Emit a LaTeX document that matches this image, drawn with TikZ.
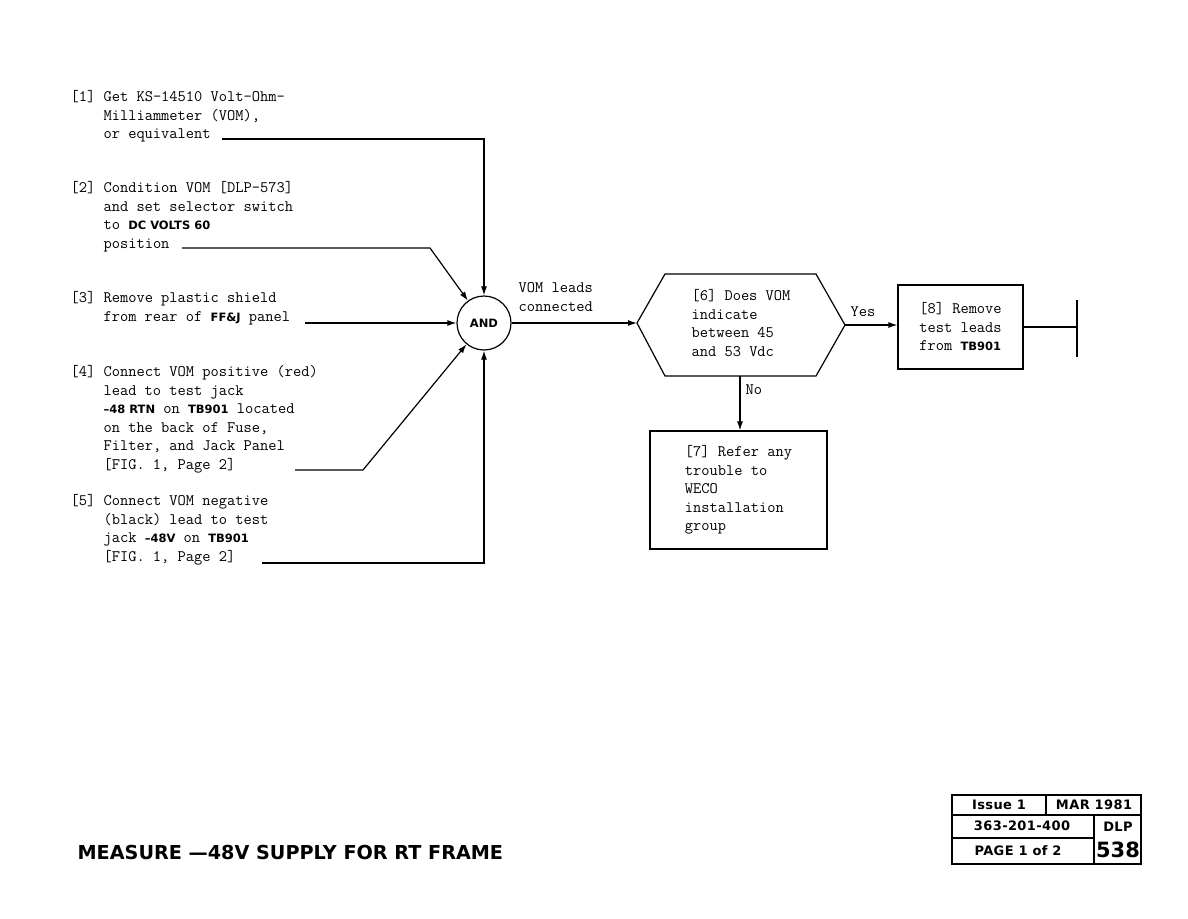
\documentclass[tikz,border=0pt]{standalone}
\usepackage{fontspec}
\newfontfamily\bsf{DejaVu Sans}[Ligatures=TeX]
\usetikzlibrary{arrows.meta}
\newcommand\sbf[1]{{\fontsize{11.5}{18.5}\selectfont\bsf\bfseries #1}}
\newcommand\hangin{\hphantom{[0] }}
\begin{document}
\begin{tikzpicture}[x=1pt,y=-1pt,line width=1.2pt,
  mono/.style={font=\fontsize{16}{18.5}\selectfont\ttfamily, align=left, inner sep=0pt},
  steptext/.style={mono, anchor=north west},
  arr/.style={-{Latex[length=9pt,width=6pt]}},
  boxnode/.style={draw, rectangle, mono},
  tb/.style={font=\fontsize{13}{15}\selectfont\bsf\bfseries\addfontfeature{LetterSpace=3}, inner sep=0pt},
  tbline/.style={line width=1.6pt}]
\useasboundingbox (0,0) rectangle (1188,918);

% step texts
\node[steptext] (s1) at (70,90) {[1] Get KS-14510 Volt-Ohm-\\\hangin Milliammeter (VOM),\\\hangin or equivalent};
\node[steptext] (s2) at (70,181) {[2] Condition VOM [DLP-573]\\\hangin and set selector switch\\\hangin to \sbf{DC VOLTS 60}\\\hangin position};
\node[steptext] (s3) at (70,291) {[3] Remove plastic shield\\\hangin from rear of \sbf{FF\&J} panel};
\node[steptext] (s4) at (70,365) {[4] Connect VOM positive (red)\\\hangin lead to test jack\\\hangin \sbf{\textendash48 RTN} on \sbf{TB901} located\\\hangin on the back of Fuse,\\\hangin Filter, and Jack Panel\\\hangin [FIG. 1, Page 2]};
\node[steptext] (s5) at (70,494) {[5] Connect VOM negative\\\hangin (black) lead to test\\\hangin jack \sbf{\textendash48V} on \sbf{TB901}\\\hangin [FIG. 1, Page 2]};

\coordinate (s1e) at (222,139);
\coordinate (s2e) at (182,248);
\coordinate (s2k) at (430,248);
\coordinate (s3e) at (305,323);
\coordinate (s4e) at (295,470);
\coordinate (s4k) at (363,470);
\coordinate (s5e) at (262,563);

% AND gate
\node[draw, circle, minimum size=54pt, inner sep=0pt, font=\fontsize{11.5}{13}\selectfont\bsf\bfseries] (and) at (484,323) {AND};

\draw[arr] (s1e) -| (and.north);
\draw[arr] (s2e) -- (s2k) -- (and);
\draw[arr] (s3e) -- (and);
\draw[arr] (s4e) -- (s4k) -- (and);
\draw[arr] (s5e) -| (and.south);

% decision hexagon
\coordinate (h6w) at (637,323);
\coordinate (h6nw) at (665,274);
\coordinate (h6ne) at (816,274);
\coordinate (h6e) at (845,325);
\coordinate (h6se) at (816,376);
\coordinate (h6sw) at (665,376);
\coordinate (h6s) at (740,376);
\draw (h6w) -- (h6nw) -- (h6ne) -- (h6e) -- (h6se) -- (h6sw) -- cycle;
\node[mono] (q6) at (741,323) {[6] Does VOM\\indicate\\between 45\\and 53 Vdc};

\draw[arr] (and) -- (h6w);
\node[mono, anchor=west] (lead) at (518,297) {VOM leads\\connected};

% box 8
\node[boxnode, minimum width=125pt, minimum height=84pt] (b8) at (960.5,327) {[8] Remove\\test leads\\from \sbf{TB901}};
\draw[arr] (h6e) -- (h6e -| b8.west);
\node[mono] (yes) at (863,312) {Yes};
\coordinate (term) at (1077,327);
\coordinate (termt) at (1077,300);
\coordinate (termb) at (1077,357);
\draw (b8.east |- term) -- (term);
\draw[line width=1.8pt] (termt) -- (termb);

% box 7
\node[boxnode, minimum width=177pt, minimum height=118pt] (b7) at (738.5,490) {[7] Refer any\\trouble to\\WECO\\installation\\group};
\draw[arr] (h6s) -- (h6s |- b7.north);
\node[mono, anchor=west] (no) at (745,390) {No};

% title
\node[anchor=west, inner sep=0pt, font=\fontsize{19.2}{22}\selectfont\bsf\bfseries] (title) at (77,852) {MEASURE \textemdash48V SUPPLY FOR RT FRAME};

% title block
\draw[tbline] (952,795) rectangle (1141,864);
\draw[tbline] (952,815) -- (1141,815);
\draw[tbline] (1046,795) -- (1046,815);
\draw[tbline] (1094,815) -- (1094,864);
\draw[tbline] (952,838) -- (1094,838);
\node[tb] (issue) at (999,805) {Issue 1};
\node[tb] (date) at (1094,805) {MAR 1981};
\node[tb] (num) at (1022,826) {363-201-400};
\node[tb] (dlp) at (1118,827) {DLP};
\node[tb] (page) at (1018,851) {PAGE 1 of 2};
\node[inner sep=0pt, font=\fontsize{21}{23}\selectfont\bsf\bfseries] (dlpn) at (1118,850) {538};
\end{tikzpicture}
\end{document}
